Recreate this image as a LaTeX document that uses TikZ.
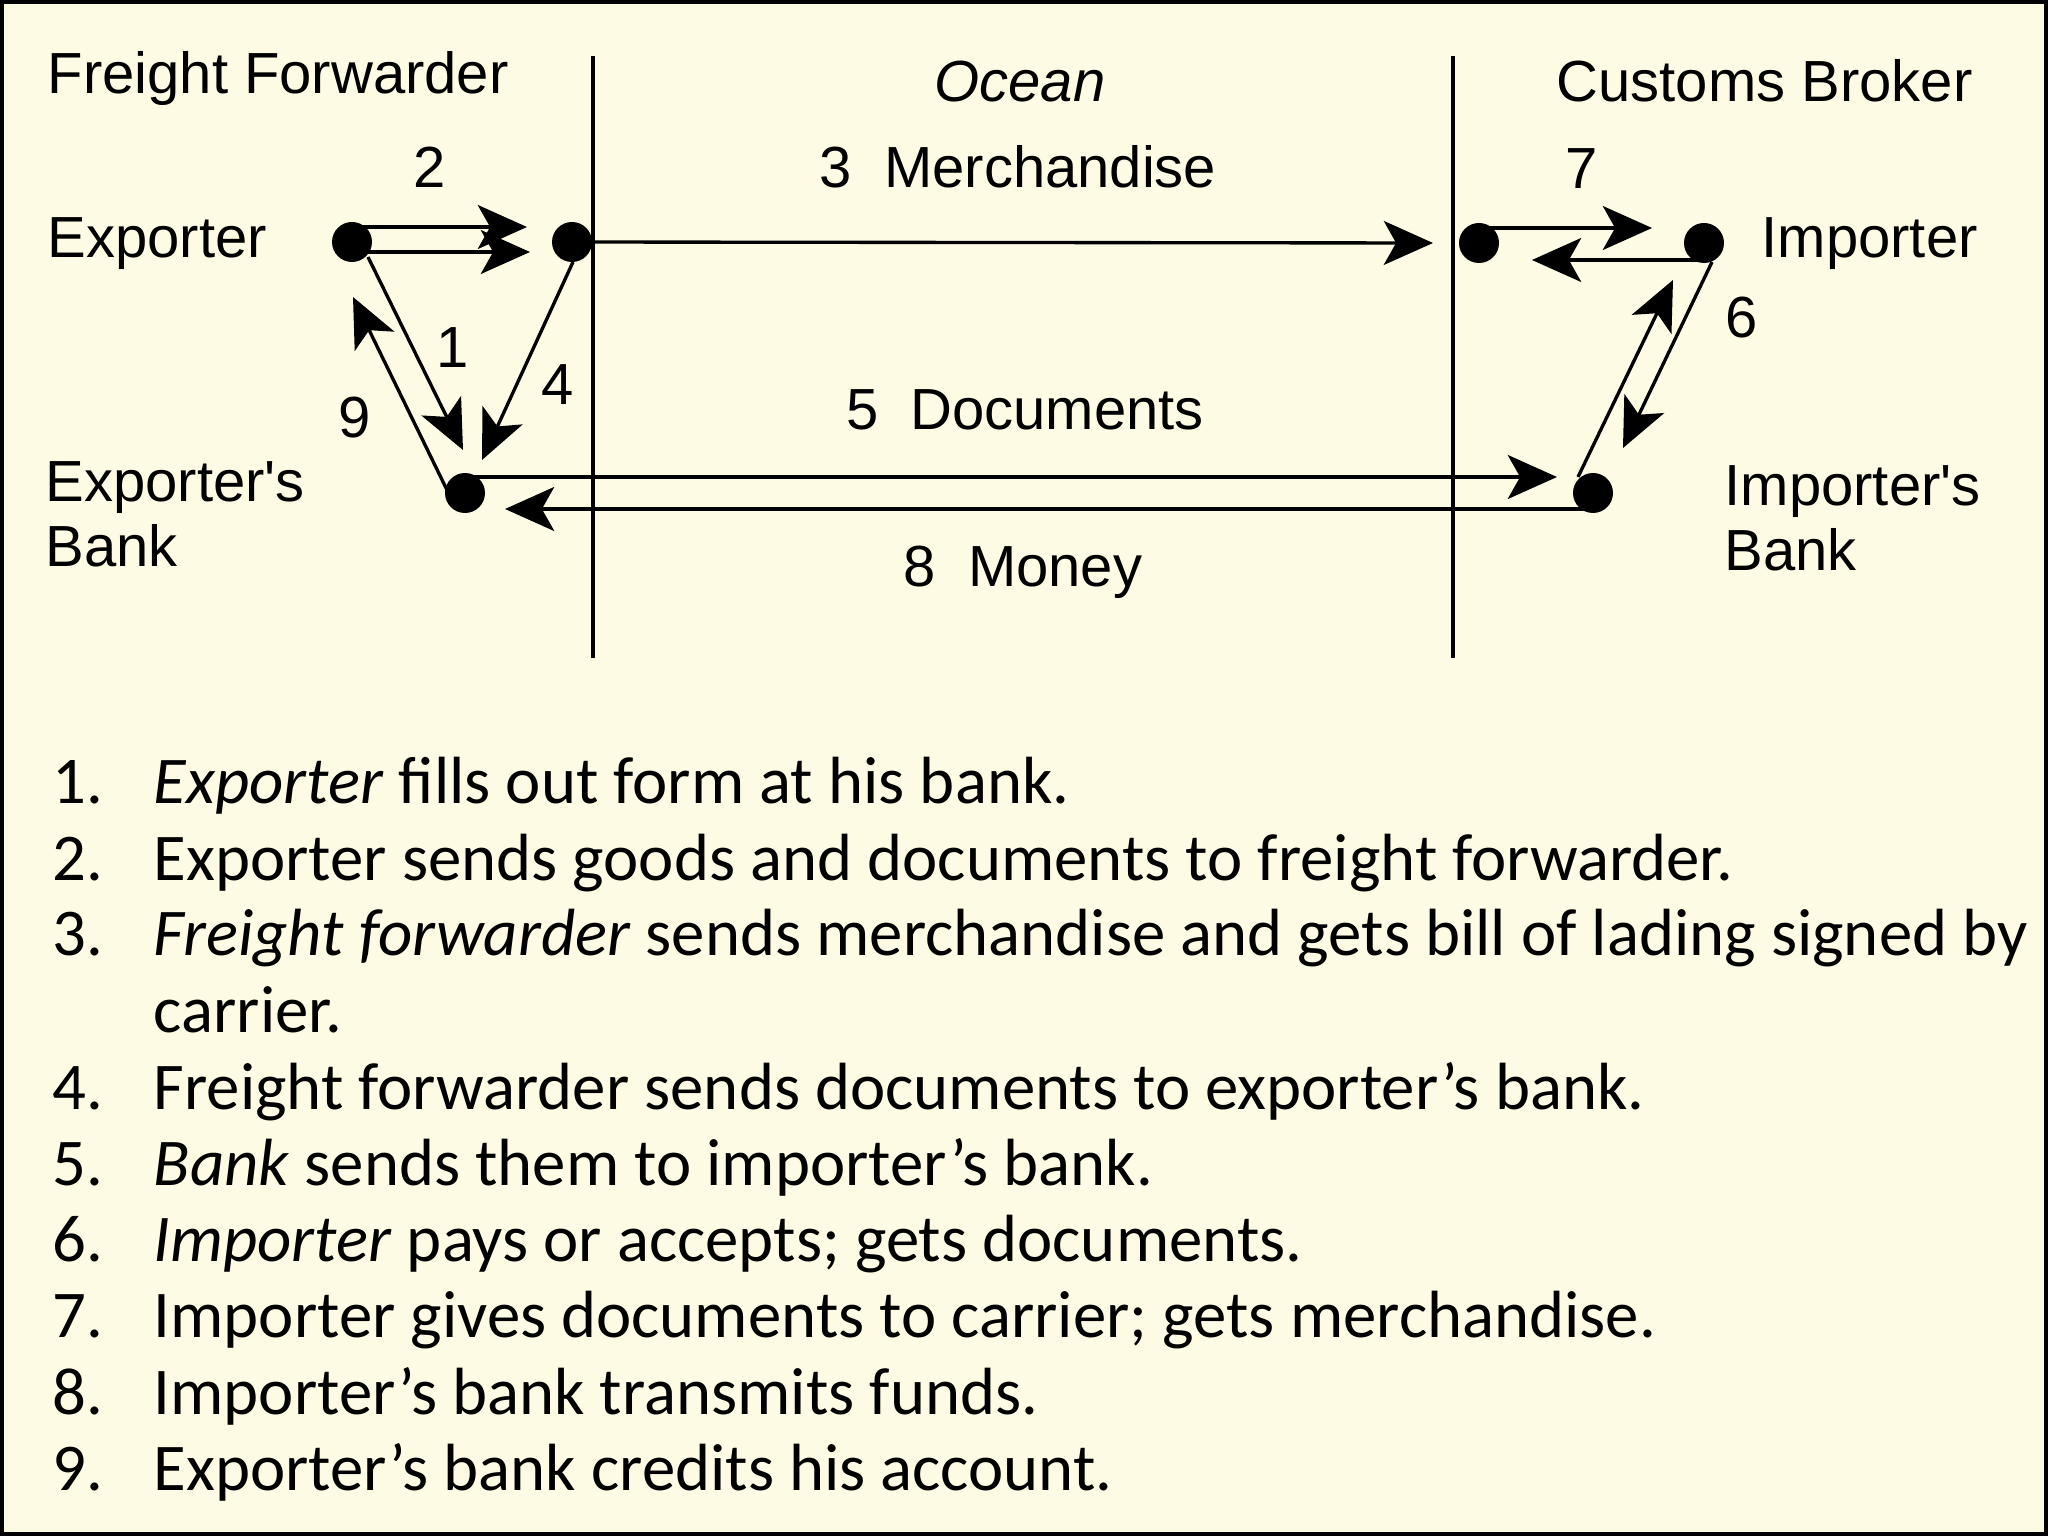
\documentclass[tikz,border=0pt]{standalone}
\usepackage{fontspec}
\setmainfont{Liberation Sans}
\newfontfamily\listfont{Carlito}
\usetikzlibrary{arrows.meta,calc}
\definecolor{paper}{RGB}{254,251,228}
\newcommand{\diagsize}{\fontsize{16.5pt}{18.5pt}\selectfont}
\newcommand{\listsize}{\listfont\fontsize{19pt}{21.7pt}\selectfont}
\tikzset{
    dot/.style={circle, fill, inner sep=0pt, minimum size=0.4cm},
    lbl/.style={font=\diagsize, inner sep=0pt},
    flow/.style={-{Stealth[length=14pt, width=12.5pt, inset=3.5pt]}, line width=0.95pt},
    divider/.style={line width=1pt},
    num/.style={font=\listsize, inner sep=0pt, anchor=base west},
    item/.style={font=\listsize, inner sep=0pt, anchor=base west},
}
\begin{document}
\begin{tikzpicture}[x=1cm, y=-1cm]
        \fill (0,0) rectangle (20.48,15.36);
        \fill[paper] (0.04,0.04) rectangle (20.44,15.32);
        \useasboundingbox (0,0) rectangle (20.48,15.36);
        \draw[divider] (5.93,0.56) -- (5.93,6.58);
        \draw[divider] (14.53,0.56) -- (14.53,6.58);
        \node[dot] (exporter) at (3.52,2.42) {};
        \node[dot] (forwarder) at (5.72,2.42) {};
        \node[dot] (exbank) at (4.65,4.93) {};
        \node[dot] (carrier) at (14.79,2.43) {};
        \node[dot] (importer) at (17.04,2.43) {};
        \node[dot] (imbank) at (15.93,4.93) {};
        \draw[flow] ($(exporter)+(0,-0.15)$) -- ($(forwarder)+(-0.45,-0.15)$);
        \draw[flow] ($(exporter)+(0,0.10)$) -- ($(forwarder)+(-0.42,0.10)$);
        \draw[flow] (forwarder) -- ($(carrier)+(-0.46,0)$);
        \draw[flow] ($(carrier)+(0,-0.15)$) -- ($(importer)+(-0.52,-0.15)$);
        \draw[flow] ($(importer)+(0,0.17)$) -- ($(carrier)+(0.53,0.17)$);
        \draw[flow] ($(exbank)+(0,-0.16)$) -- ($(imbank)+(-0.36,-0.16)$);
        \draw[flow] ($(imbank)+(0,0.16)$) -- ($(exbank)+(0.40,0.16)$);
        \draw[flow] ($(exporter)+(0.16,0.15)$) -- ($(exbank)+(-0.02,-0.43)$);
        \draw[flow] ($(forwarder)+(0.01,0.20)$) -- ($(exbank)+(0.17,-0.33)$);
        \draw[flow] ($(exbank)+(-0.18,-0.03)$) -- ($(exporter)+(0.01,0.55)$);
        \draw[flow] ($(imbank)+(-0.15,-0.16)$) -- ($(importer)+(-0.31,0.37)$);
        \draw[flow] ($(importer)+(0.08,0.19)$) -- ($(imbank)+(0.30,-0.45)$);
        \node[lbl, anchor=base west] (ff-label) at (0.47,0.94) {Freight Forwarder};
        \node[lbl, anchor=base west] (exp-label) at (0.47,2.58) {Exporter};
        \node[lbl, anchor=north west, align=left] (exbank-label) at (0.45,4.61) {Exporter\textquotesingle s\\Bank};
        \node[lbl, anchor=base west] (cb-label) at (15.56,1.02) {Customs Broker};
        \node[lbl, anchor=base west] (imp-label) at (17.61,2.58) {Importer};
        \node[lbl, anchor=north west, align=left] (imbank-label) at (17.24,4.65) {Importer\textquotesingle s\\Bank};
        \node[lbl, anchor=base] (ocean) at (10.20,1.02) {\itshape Ocean};
        \node[lbl, anchor=base] (merch) at (10.18,1.88) {3~~Merchandise};
        \node[lbl, anchor=base] (docs) at (10.25,4.30) {5~~Documents};
        \node[lbl, anchor=base] (money) at (10.23,5.87) {8~~Money};
        \foreach \n/\x/\y in {1/4.53/3.48,2/4.30/1.67,4/5.58/3.85,6/17.42/3.18,7/15.82/1.69,9/3.55/4.18}
            \node[lbl] (n\n) at (\x,\y) {\n};
        \foreach \n/\y/\txt in {
            1/8.04/{\textit{Exporter} fills out form at his bank.},
            2/8.80/{Exporter sends goods and documents to freight forwarder.},
            3/9.56/{\begin{tabular}[t]{@{}l@{}}\textit{Freight forwarder} sends merchandise and gets bill of lading signed by\\carrier.\end{tabular}},
            4/11.09/{Freight forwarder sends documents to exporter’s bank.},
            5/11.85/{\textit{Bank} sends them to importer’s bank.},
            6/12.61/{\textit{Importer} pays or accepts; gets documents.},
            7/13.37/{Importer gives documents to carrier; gets merchandise.},
            8/14.14/{Importer’s bank transmits funds.},
            9/14.90/{Exporter’s bank credits his account.}} {
            \node[num] (num-\n) at (0.52,\y) {\n.};
            \node[item] (item-\n) at (1.53,\y) {\txt};
        }
    \end{tikzpicture}
\end{document}
